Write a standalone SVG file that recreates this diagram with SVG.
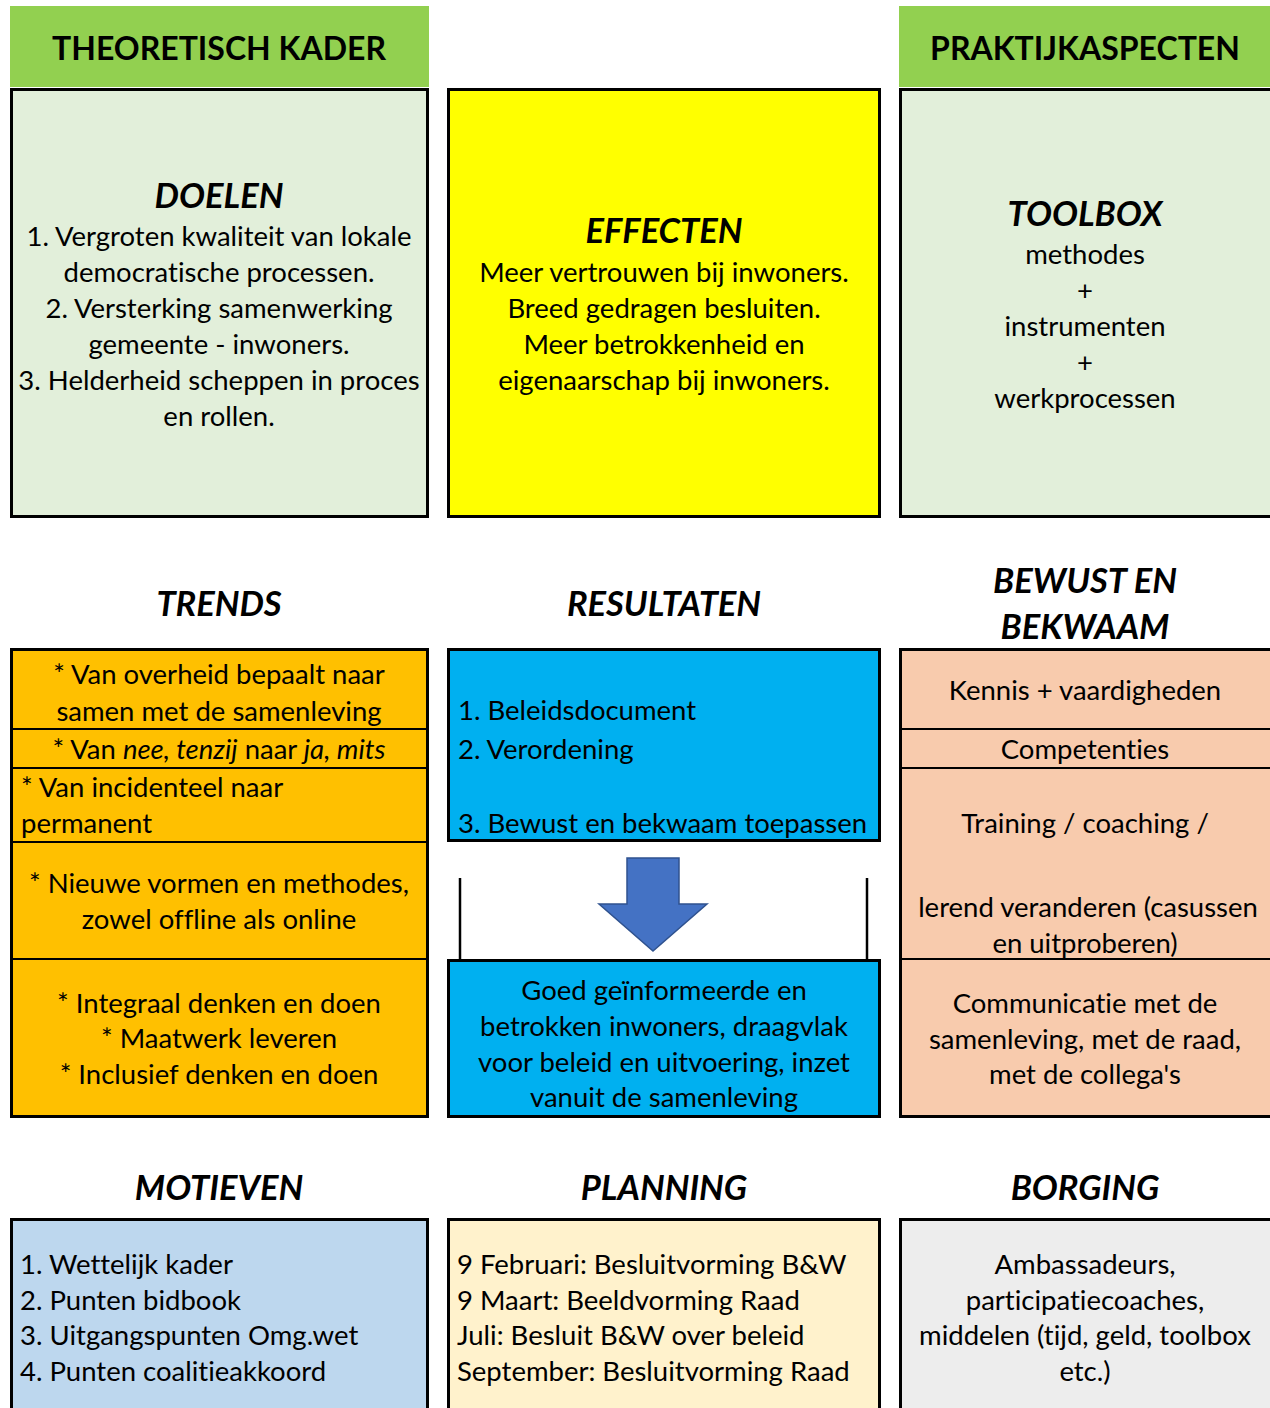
<svg xmlns="http://www.w3.org/2000/svg" width="1270" height="1408" viewBox="0 0 1270 1408">
<style>
text{font-family:Lato,"Liberation Sans",sans-serif;fill:#000;font-variant-ligatures:none;}
.t{font-size:27.5px;}
.c{text-anchor:middle;}
.h{font-size:32px;font-weight:bold;text-anchor:middle;}
.hi{font-size:34.5px;font-weight:bold;font-style:italic;text-anchor:middle;}
.box{stroke:#000;stroke-width:3;}
.div{stroke:#000;stroke-width:2;}
.i{font-style:italic;}
</style>
<rect width="1270" height="1408" fill="#fff"/>

<g id="header-theoretisch">
<rect x="10" y="6" width="419" height="81" fill="#92D050"/>
<text class="h" x="219" y="60">THEORETISCH KADER</text>
</g>
<g id="header-praktijk">
<rect x="899" y="6" width="380" height="81" fill="#92D050"/>
<text class="h" x="1085" y="60">PRAKTIJKASPECTEN</text>
</g>

<g id="doelen">
<rect class="box" x="11.5" y="89.5" width="416" height="427" fill="#E2EFDA"/>
<text class="hi" x="219" y="208">DOELEN</text>
<text class="t c" x="219" y="246">1. Vergroten kwaliteit van lokale</text>
<text class="t c" x="219" y="282">democratische processen.</text>
<text class="t c" x="219" y="318">2. Versterking samenwerking</text>
<text class="t c" x="219" y="354">gemeente - inwoners.</text>
<text class="t c" x="219" y="390">3. Helderheid scheppen in proces</text>
<text class="t c" x="219" y="426">en rollen.</text>
</g>

<g id="effecten">
<rect class="box" x="448.5" y="89.5" width="431" height="427" fill="#FFFF00"/>
<text class="hi" x="664" y="243">EFFECTEN</text>
<text class="t c" x="664" y="282">Meer vertrouwen bij inwoners.</text>
<text class="t c" x="664" y="318">Breed gedragen besluiten.</text>
<text class="t c" x="664" y="354">Meer betrokkenheid en</text>
<text class="t c" x="664" y="390">eigenaarschap bij inwoners.</text>
</g>

<g id="toolbox">
<rect class="box" x="900.5" y="89.5" width="400" height="427" fill="#E2EFDA"/>
<text class="hi" x="1085" y="226">TOOLBOX</text>
<text class="t c" x="1085" y="264">methodes</text>
<text class="t c" x="1085" y="300">+</text>
<text class="t c" x="1085" y="336">instrumenten</text>
<text class="t c" x="1085" y="372">+</text>
<text class="t c" x="1085" y="408">werkprocessen</text>
</g>

<g id="titles-row2">
<text class="hi" x="219" y="616">TRENDS</text>
<text class="hi" x="664" y="616">RESULTATEN</text>
<text class="hi" x="1085" y="593">BEWUST EN</text>
<text class="hi" x="1085" y="639">BEKWAAM</text>
</g>

<g id="trends">
<rect class="box" x="11.5" y="649.5" width="416" height="467" fill="#FFC000"/>
<line class="div" x1="11" y1="729" x2="428" y2="729"/>
<line class="div" x1="11" y1="768" x2="428" y2="768"/>
<line class="div" x1="11" y1="842" x2="428" y2="842"/>
<line class="div" x1="11" y1="959" x2="428" y2="959"/>
<text class="t c" x="219" y="684">* Van overheid bepaalt naar</text>
<text class="t c" x="219" y="721">samen met de samenleving</text>
<text class="t c" x="219" y="759">* Van <tspan class="i">nee, tenzij</tspan> naar <tspan class="i">ja, mits</tspan></text>
<text class="t" x="21" y="797">* Van incidenteel naar</text>
<text class="t" x="21" y="833">permanent</text>
<text class="t c" x="219" y="893">* Nieuwe vormen en methodes,</text>
<text class="t c" x="219" y="929">zowel offline als online</text>
<text class="t c" x="219" y="1013">* Integraal denken en doen</text>
<text class="t c" x="219" y="1048">* Maatwerk leveren</text>
<text class="t c" x="219" y="1084">* Inclusief denken en doen</text>
</g>

<g id="resultaten">
<rect class="box" x="448.5" y="649.5" width="431" height="191" fill="#00B0F0"/>
<text class="t" x="458" y="720">1. Beleidsdocument</text>
<text class="t" x="458" y="759">2. Verordening</text>
<text class="t" x="458" y="833">3. Bewust en bekwaam toepassen</text>
</g>

<g id="uitkomst">
<rect class="box" x="448.5" y="960.5" width="431" height="156" fill="#00B0F0"/>
<text class="t c" x="664" y="1000">Goed geïnformeerde en</text>
<text class="t c" x="664" y="1036">betrokken inwoners, draagvlak</text>
<text class="t c" x="664" y="1072">voor beleid en uitvoering, inzet</text>
<text class="t c" x="664" y="1107">vanuit de samenleving</text>
</g>

<g id="bewust">
<rect class="box" x="900.5" y="649.5" width="400" height="467" fill="#F8CBAD"/>
<line class="div" x1="900" y1="729" x2="1270" y2="729"/>
<line class="div" x1="900" y1="768" x2="1270" y2="768"/>
<line class="div" x1="900" y1="959" x2="1270" y2="959"/>
<text class="t c" x="1085" y="700">Kennis + vaardigheden</text>
<text class="t c" x="1085" y="759">Competenties</text>
<text class="t c" x="1085" y="833">Training / coaching /</text>
<text class="t c" x="1088" y="917">lerend veranderen (casussen</text>
<text class="t c" x="1085" y="953">en uitproberen)</text>
<text class="t c" x="1085" y="1013">Communicatie met de</text>
<text class="t c" x="1085" y="1049">samenleving, met de raad,</text>
<text class="t c" x="1085" y="1084">met de collega's</text>
</g>

<g id="connectors">
<line x1="460" y1="878" x2="460" y2="959" stroke="#000" stroke-width="2.5"/>
<line x1="867" y1="878" x2="867" y2="959" stroke="#000" stroke-width="2.5"/>
<polygon points="627,858 679,858 679,904 707,904 653,951 599,904 627,904" fill="#4472C4" stroke="#2F528F" stroke-width="1.5"/>
</g>

<g id="titles-row3">
<text class="hi" x="219" y="1200">MOTIEVEN</text>
<text class="hi" x="664" y="1200">PLANNING</text>
<text class="hi" x="1085" y="1200">BORGING</text>
</g>

<g id="motieven">
<rect class="box" x="11.5" y="1219.5" width="416" height="250" fill="#BDD7EE"/>
<text class="t" x="20" y="1274">1. Wettelijk kader</text>
<text class="t" x="20" y="1310">2. Punten bidbook</text>
<text class="t" x="20" y="1345">3. Uitgangspunten Omg.wet</text>
<text class="t" x="20" y="1381">4. Punten coalitieakkoord</text>
</g>

<g id="planning">
<rect class="box" x="448.5" y="1219.5" width="431" height="250" fill="#FFF2CC"/>
<text class="t" x="457" y="1274">9 Februari: Besluitvorming B&amp;W</text>
<text class="t" x="457" y="1310">9 Maart: Beeldvorming Raad</text>
<text class="t" x="457" y="1345">Juli: Besluit B&amp;W over beleid</text>
<text class="t" x="457" y="1381">September: Besluitvorming Raad</text>
</g>

<g id="borging">
<rect class="box" x="900.5" y="1219.5" width="400" height="250" fill="#EDEDED"/>
<text class="t c" x="1085" y="1274">Ambassadeurs,</text>
<text class="t c" x="1085" y="1310">participatiecoaches,</text>
<text class="t c" x="1085" y="1345">middelen (tijd, geld, toolbox</text>
<text class="t c" x="1085" y="1381">etc.)</text>
</g>
</svg>
